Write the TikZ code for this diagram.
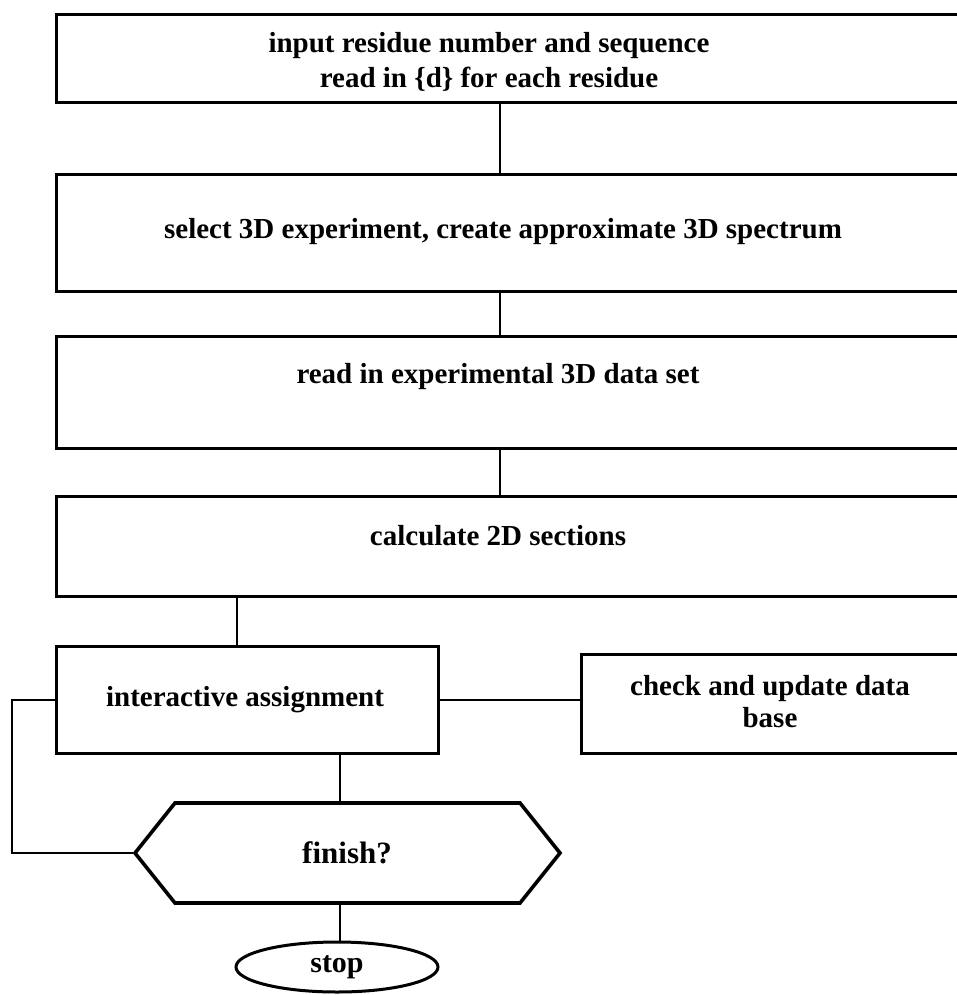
\documentclass[tikz,border=0pt]{standalone}
\usepackage{fontspec}
\setmainfont{Liberation Serif}
\usetikzlibrary{shapes.geometric,shapes.symbols}
\begin{document}
\begin{tikzpicture}[x=1pt,y=-1pt,
  box/.style={draw,line width=3pt,rectangle,inner sep=0pt},
  conn/.style={line width=2.5pt},
  lbl/.style={font=\fontsize{29}{32}\selectfont\bfseries,align=center,inner sep=0pt}]
\useasboundingbox (0,0) rectangle (957,995);
% boxes
\node[box,anchor=north west,minimum width=907pt,minimum height=88pt] (b1) at (55,13) {};
\node[box,anchor=north west,minimum width=907pt,minimum height=117pt] (b2) at (55,173) {};
\node[box,anchor=north west,minimum width=907pt,minimum height=112pt] (b3) at (55,335) {};
\node[box,anchor=north west,minimum width=907pt,minimum height=100pt] (b4) at (55,495) {};
\node[box,anchor=north west,minimum width=382pt,minimum height=107pt] (ia) at (55,645) {};
\node[box,anchor=north west,minimum width=382pt,minimum height=99pt] (cu) at (580,653) {};
\node[draw,line width=3.6pt,signal,signal to=west and east,signal pointer angle=102.7,
  minimum width=425pt,minimum height=100pt,inner sep=0pt] (fin) at (347.5,853) {};
\node[draw,line width=3pt,ellipse,minimum width=202pt,minimum height=50pt,inner sep=0pt] (stop) at (337,967) {};
% texts
\node[lbl] (t1) at (489,46) {input residue number and sequence};
\node[lbl] (t1b) at (489,79) {read in \{d\} for each residue};
\node[lbl] (t2) at (503,232) {select 3D experiment, create approximate 3D spectrum};
\node[lbl] (t3) at (498,377) {read in experimental 3D data set};
\node[lbl] (t4) at (498,536) {calculate 2D sections};
\node[lbl] (t5) at (245,700) {interactive assignment};
\node[lbl] (t6) at (770,702) {check and update data\\ base};
\node[lbl,font=\fontsize{31}{34}\selectfont\bfseries] (t7) at (347,853) {finish?};
\node[lbl,font=\fontsize{30}{34}\selectfont\bfseries] (t8) at (337,967) {stop};
% connectors
\coordinate (mx) at (500,0);
\coordinate (lx) at (237,0);
\coordinate (fx) at (340,0);
\draw[conn] (b1.south -| mx) -- (b2.north -| mx);
\draw[conn] (b2.south -| mx) -- (b3.north -| mx);
\draw[conn] (b3.south -| mx) -- (b4.north -| mx);
\draw[conn] (b4.south -| lx) -- (ia.north -| lx);
\draw[conn] (ia.east) -- (cu.west |- ia.east);
\draw[conn] (ia.south -| fx) -- (fin.north -| fx);
\draw[conn] (fin.south -| fx) -- (stop.north -| fx);
\draw[conn] (ia.west) -- ++(-43,0) |- (fin.west);
\end{tikzpicture}
\end{document}
